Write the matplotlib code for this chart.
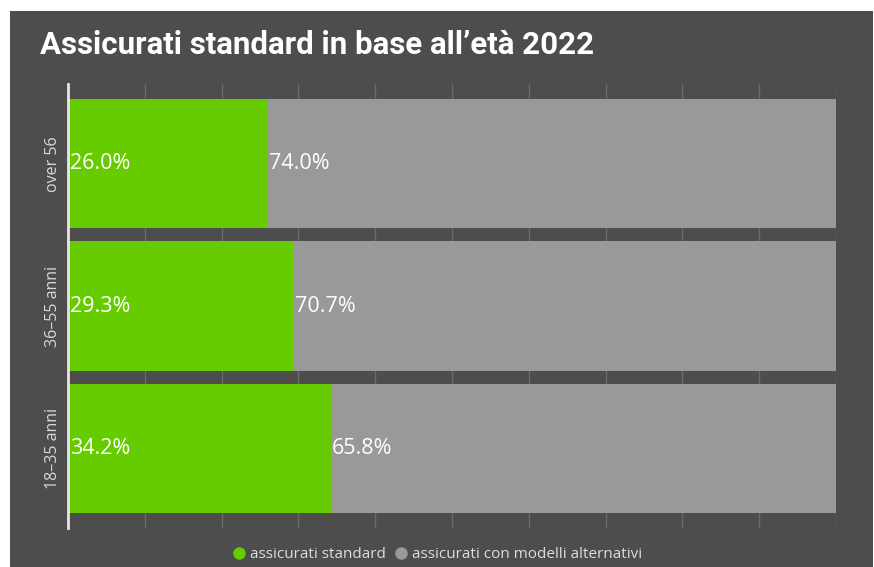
import matplotlib
matplotlib.use("Agg")
import matplotlib.pyplot as plt
from matplotlib.patches import Rectangle
from matplotlib.lines import Line2D

categories = ["18–35 anni", "36–55 anni", "over 56"]
standard = [34.2, 29.3, 26.0]
alternativi = [65.8, 70.7, 74.0]
series_names = ["assicurati standard", "assicurati con modelli alternativi"]
title = "Assicurati standard in base all’età 2022"

GREEN = "#66cc00"
GREY = "#999999"
BG = "#4d4d4d"
LABEL_FONT = ["Open Sans", "DejaVu Sans"]

W, H = 874, 567
fig = plt.figure(figsize=(W / 100, H / 100), dpi=100)
fig.patch.set_facecolor("white")
fig.patches.append(Rectangle((10 / W, 0), (873 - 10) / W, (H - 11) / H,
                             transform=fig.transFigure, facecolor=BG,
                             edgecolor="none", zorder=-10))

ax = fig.add_axes([68 / W, (H - 528) / H, (836 - 68) / W, (528 - 84) / H])
ax.set_facecolor("none")

y = list(range(len(categories)))
ax.barh(y, standard, height=0.91, color=GREEN, zorder=2)
ax.barh(y, alternativi, left=standard, height=0.91, color=GREY, zorder=2)

for yi, s, a in zip(y, standard, alternativi):
    ax.text(0.3, yi, f"{s:.1f}%", color="white", va="center", ha="left",
            fontsize=15.5, family=LABEL_FONT, zorder=3)
    ax.text(s + 0.2, yi, f"{a:.1f}%", color="white", va="center", ha="left",
            fontsize=15.5, family=LABEL_FONT, zorder=3)

ax.set_xlim(0, 100)
ax.set_ylim(-0.56, 2.56)
ax.set_xticks(range(0, 101, 10))
ax.set_xticklabels([])
ax.tick_params(axis="x", length=0)
ax.grid(axis="x", color="#6a6a6a", linewidth=1, zorder=1)
ax.set_axisbelow(True)

ax.set_yticks(y)
ax.set_yticklabels(categories, rotation=90, va="center", color="#d9d9d9",
                   fontsize=11.5, family=LABEL_FONT)
ax.tick_params(axis="y", length=0, pad=5)

for side in ["top", "right", "bottom"]:
    ax.spines[side].set_visible(False)
ax.spines["left"].set_color("#e6e6e6")
ax.spines["left"].set_linewidth(2)
ax.spines["left"].set_zorder(4)

fig.text(40 / W, 1 - 45 / H, title, color="white", fontsize=22.5,
         fontweight="bold", family=["Roboto", "DejaVu Sans"], va="center", ha="left")

handles = [Line2D([], [], marker="o", linestyle="none", markersize=9,
                  markerfacecolor=c, markeredgecolor="none") for c in (GREEN, GREY)]
leg = fig.legend(handles, series_names, loc="center", bbox_to_anchor=(437 / W, 1 - 555 / H),
                 ncol=2, frameon=False, handletextpad=0.2, columnspacing=0.5,
                 handlelength=1.0, prop={"family": LABEL_FONT, "size": 11})
for t in leg.get_texts():
    t.set_color("#dddddd")

fig.savefig("out.png", dpi=100, facecolor=fig.get_facecolor())
